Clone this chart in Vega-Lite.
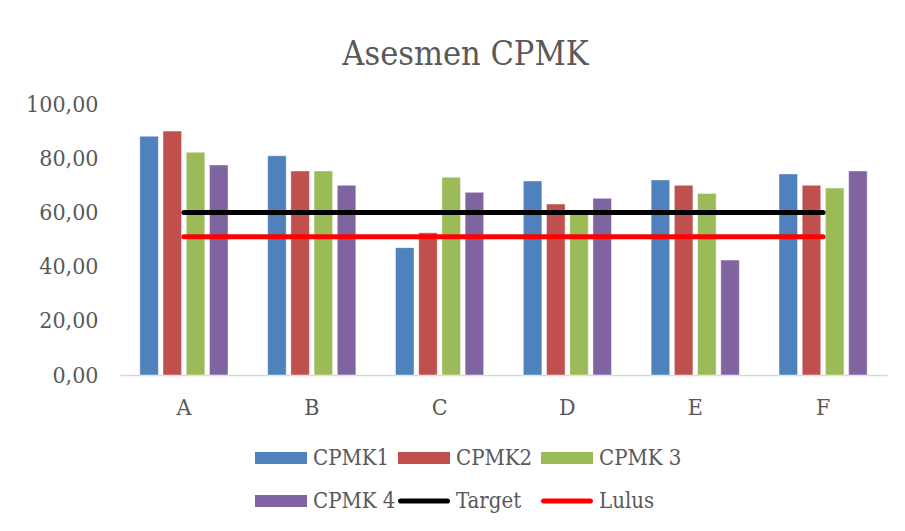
{
  "$schema": "https://vega.github.io/schema/vega-lite/v6.json",
  "autosize": "none",
  "width": 767,
  "height": 271,
  "padding": {"left": 120, "top": 104, "right": 18, "bottom": 156},
  "background": "white",
  "config": {"view": {"stroke": null}},
  "title": {
    "text": "Asesmen CPMK",
    "font": "DejaVu Serif Condensed",
    "fontSize": 34,
    "fontWeight": "normal",
    "color": "#595959",
    "anchor": "middle",
    "dx": -38,
    "dy": 45,
    "baseline": "alphabetic",
    "offset": 39
  },
  "data": {
    "values": [
      {"kategori": "A", "seri": "CPMK1", "nilai": 88.1},
      {"kategori": "A", "seri": "CPMK2", "nilai": 90.0},
      {"kategori": "A", "seri": "CPMK 3", "nilai": 82.2},
      {"kategori": "A", "seri": "CPMK 4", "nilai": 77.5},
      {"kategori": "B", "seri": "CPMK1", "nilai": 80.9},
      {"kategori": "B", "seri": "CPMK2", "nilai": 75.3},
      {"kategori": "B", "seri": "CPMK 3", "nilai": 75.3},
      {"kategori": "B", "seri": "CPMK 4", "nilai": 70.0},
      {"kategori": "C", "seri": "CPMK1", "nilai": 47.0},
      {"kategori": "C", "seri": "CPMK2", "nilai": 52.5},
      {"kategori": "C", "seri": "CPMK 3", "nilai": 73.0},
      {"kategori": "C", "seri": "CPMK 4", "nilai": 67.4},
      {"kategori": "D", "seri": "CPMK1", "nilai": 71.6},
      {"kategori": "D", "seri": "CPMK2", "nilai": 63.1},
      {"kategori": "D", "seri": "CPMK 3", "nilai": 59.8},
      {"kategori": "D", "seri": "CPMK 4", "nilai": 65.2},
      {"kategori": "E", "seri": "CPMK1", "nilai": 72.0},
      {"kategori": "E", "seri": "CPMK2", "nilai": 70.0},
      {"kategori": "E", "seri": "CPMK 3", "nilai": 67.0},
      {"kategori": "E", "seri": "CPMK 4", "nilai": 42.4},
      {"kategori": "F", "seri": "CPMK1", "nilai": 74.2},
      {"kategori": "F", "seri": "CPMK2", "nilai": 70.0},
      {"kategori": "F", "seri": "CPMK 3", "nilai": 69.0},
      {"kategori": "F", "seri": "CPMK 4", "nilai": 75.3},
      {"kategori": "A", "seri": "Target", "nilai": 60},
      {"kategori": "B", "seri": "Target", "nilai": 60},
      {"kategori": "C", "seri": "Target", "nilai": 60},
      {"kategori": "D", "seri": "Target", "nilai": 60},
      {"kategori": "E", "seri": "Target", "nilai": 60},
      {"kategori": "F", "seri": "Target", "nilai": 60},
      {"kategori": "A", "seri": "Lulus", "nilai": 51},
      {"kategori": "B", "seri": "Lulus", "nilai": 51},
      {"kategori": "C", "seri": "Lulus", "nilai": 51},
      {"kategori": "D", "seri": "Lulus", "nilai": 51},
      {"kategori": "E", "seri": "Lulus", "nilai": 51},
      {"kategori": "F", "seri": "Lulus", "nilai": 51}
    ]
  },
  "encoding": {
    "x": {
      "field": "kategori",
      "type": "nominal",
      "scale": {"paddingInner": 0.31, "paddingOuter": 0.155},
      "axis": {
        "title": null,
        "labelAngle": 0,
        "ticks": false,
        "domain": true,
        "domainColor": "#d9d9d9",
        "domainWidth": 1.5,
        "grid": false,
        "labelPadding": 21,
        "labelFont": "DejaVu Serif Condensed",
        "labelFontSize": 23,
        "labelColor": "#595959"
      }
    },
    "y": {
      "field": "nilai",
      "type": "quantitative",
      "scale": {"domain": [0, 100], "nice": false},
      "axis": {
        "title": null,
        "values": [0, 20, 40, 60, 80, 100],
        "labelExpr": "replace(format(datum.value, '.2f'), '.', ',')",
        "ticks": false,
        "domain": false,
        "grid": false,
        "labelPadding": 22,
        "labelFont": "DejaVu Serif Condensed",
        "labelFontSize": 23,
        "labelColor": "#595959"
      }
    },
    "color": {
      "field": "seri",
      "type": "nominal",
      "scale": {
        "domain": ["CPMK1", "CPMK2", "CPMK 3", "CPMK 4", "Target", "Lulus"],
        "range": ["#4f81bd", "#c0504d", "#9bbb59", "#8064a2", "#000000", "#ff0000"]
      },
      "legend": {
        "title": null,
        "orient": "none",
        "legendX": 135,
        "legendY": 328,
        "columns": 3,
        "direction": "horizontal",
        "gridAlign": "all",
        "padding": 0,
        "columnPadding": 2,
        "rowPadding": 6,
        "symbolType": "M-1,-0.23H1V0.23H-1Z",
        "symbolSize": 2704,
        "symbolStrokeWidth": 0,
        "labelOffset": 6,
        "labelFont": "DejaVu Serif Condensed",
        "labelFontSize": 22,
        "labelColor": "#595959",
        "labelLimit": 200,
        "encode": {
          "symbols": {
            "update": {
              "shape": {"signal": "datum.value === 'Target' || datum.value === 'Lulus' ? 'M-0.9,-0.1H0.9A0.1,0.1 0 0 1 0.9,0.1H-0.9A0.1,0.1 0 0 1 -0.9,-0.1Z' : 'M-1,-0.23H1V0.23H-1Z'"},
              "fill": {"scale": "color", "field": "value"},
              "strokeWidth": {"value": 0},
              "opacity": {"value": 1}
            }
          }
        }
      }
    }
  },
  "layer": [
    {
      "transform": [{"filter": "datum.seri !== 'Target' && datum.seri !== 'Lulus'"}],
      "mark": {"type": "bar", "stroke": "white", "strokeWidth": 1, "strokeOpacity": 0.45},
      "encoding": {
        "xOffset": {
          "field": "seri",
          "type": "nominal",
          "sort": ["CPMK1", "CPMK2", "CPMK 3", "CPMK 4"],
          "scale": {"paddingInner": 0.2, "paddingOuter": 0}
        }
      }
    },
    {
      "transform": [{"filter": "datum.seri === 'Target' || datum.seri === 'Lulus'"}],
      "mark": {"type": "line", "strokeWidth": 5, "strokeCap": "round"},
      "encoding": {}
    }
  ]
}
